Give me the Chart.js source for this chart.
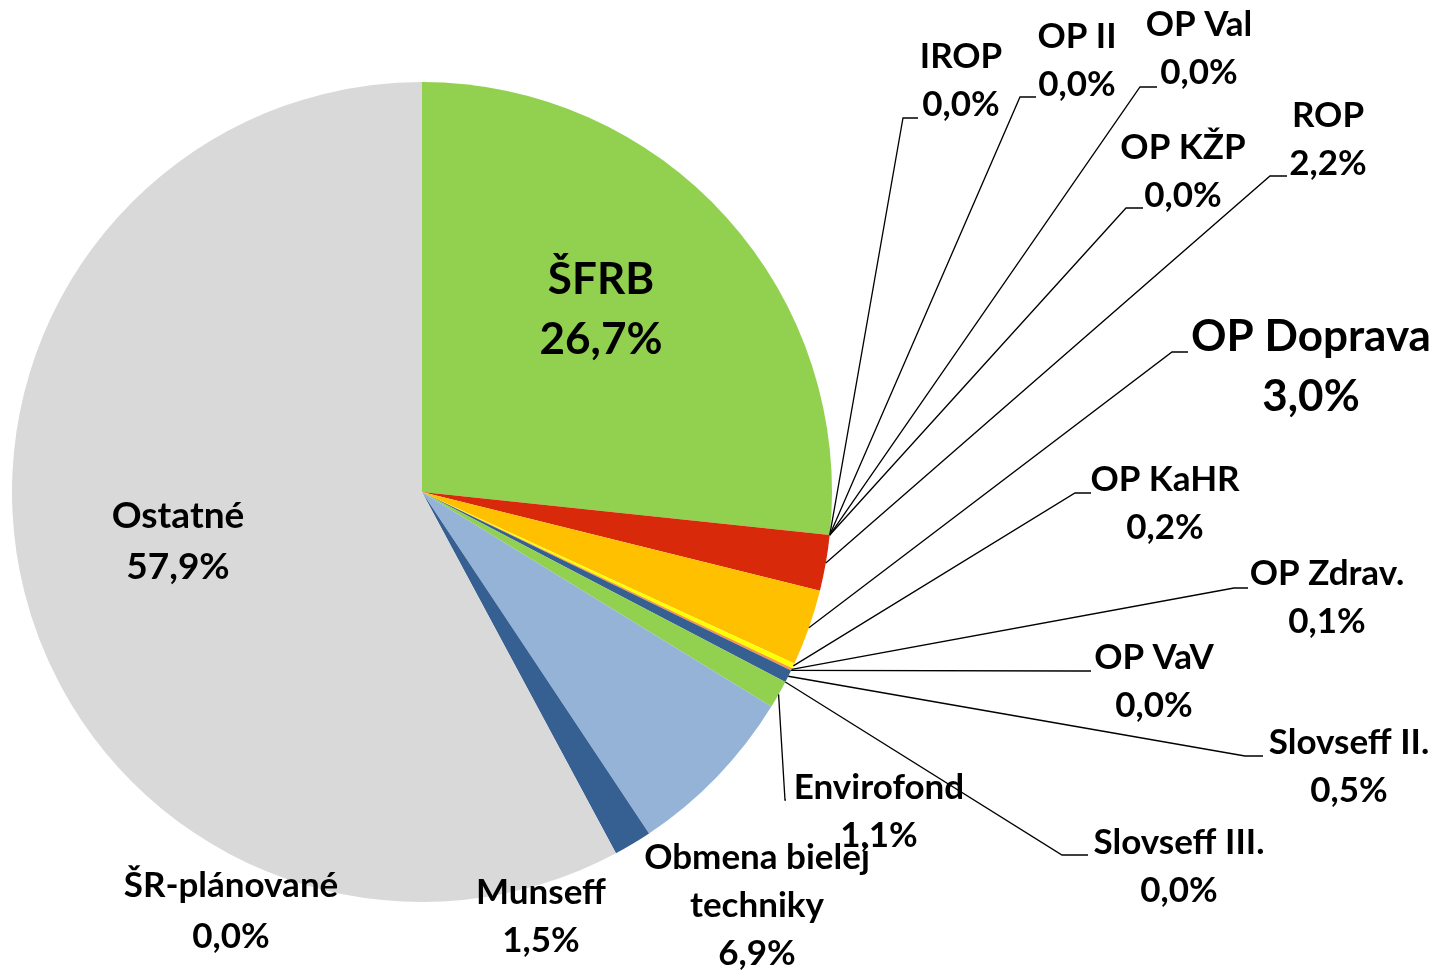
<!DOCTYPE html>
<html>
<head>
<meta charset="utf-8">
<script src="https://cdn.jsdelivr.net/npm/chart.js@4/dist/chart.umd.min.js"></script>
<style>
  body { margin: 0; background: #fff; }
  canvas { display: block; }
</style>
</head>
<body>
<canvas id="pieChart" width="1437" height="973"></canvas>
<script>
// data
const categories = ["ŠFRB", "IROP", "OP II", "OP Val", "OP KŽP", "ROP", "OP Doprava", "OP KaHR",
  "OP Zdrav.", "OP VaV", "Slovseff II.", "Slovseff III.", "Envirofond", "Obmena bielej techniky",
  "Munseff", "ŠR-plánované", "Ostatné"];
const shares = [26.7, 0.0, 0.0, 0.0, 0.0, 2.2, 3.0, 0.2, 0.1, 0.0, 0.5, 0.0, 1.1, 6.9, 1.5, 0.0, 57.9];
const sliceColors = ["#92D050", "#4F81BD", "#C0504D", "#9BBB59", "#8064A2", "#D9290B", "#FFC000", "#FFFF00",
  "#F79646", "#4BACC6", "#376092", "#7F7F7F", "#92D050", "#95B3D7", "#376092", "#BFBFBF", "#D9D9D9"];

// label placement (x = text centre, y = first line), optional leader elbow
const labelLayout = [
  { x: 601, y: 280, big: true },
  { x: 961, y: 57, elbow: [903, 118], end: [918, 118] },
  { x: 1077, y: 37, elbow: [1020, 97], end: [1036, 97] },
  { x: 1199, y: 25, elbow: [1140, 87], end: [1157, 87] },
  { x: 1183, y: 148, elbow: [1126, 208], end: [1143, 208] },
  { x: 1328, y: 116, elbow: [1270, 176], end: [1287, 176] },
  { x: 1311, y: 337, big: true, elbow: [1172, 352], end: [1188, 352] },
  { x: 1165, y: 480, elbow: [1075, 493], end: [1091, 493] },
  { x: 1327, y: 574, elbow: [1234, 588], end: [1248, 588] },
  { x: 1154, y: 658, elbow: [1078, 671], end: [1091, 671] },
  { x: 1349, y: 743, elbow: [1245, 756], end: [1263, 756] },
  { x: 1179, y: 843, elbow: [1062, 855], end: [1088, 855] },
  { x: 879, y: 788, elbow: [785, 800], end: [786, 800] },
  { x: 757, y: 858, wrap: true },
  { x: 541, y: 893 },
  { x: 231, y: 886, lh: 51 },
  { x: 178, y: 516, lh: 51, size: 37 }
];

function fmt(v) {
  return v.toFixed(1).replace(".", ",") + "%";
}

const pieLabels = {
  id: "pieLabels",
  afterDraw(chart) {
    const ctx = chart.ctx;
    const arcs = chart.getDatasetMeta(0).data;
    ctx.save();
    // leader lines
    ctx.strokeStyle = "#000";
    ctx.lineWidth = 1.3;
    arcs.forEach(function (arc, i) {
      const lay = labelLayout[i];
      if (!lay.elbow) return;
      const p = arc.getProps(["x", "y", "startAngle", "endAngle", "outerRadius"], true);
      const mid = (p.startAngle + p.endAngle) / 2;
      const sx = p.x + Math.cos(mid) * p.outerRadius;
      const sy = p.y + Math.sin(mid) * p.outerRadius;
      ctx.beginPath();
      ctx.moveTo(sx, sy);
      ctx.lineTo(lay.elbow[0], lay.elbow[1]);
      ctx.lineTo(lay.end[0], lay.end[1]);
      ctx.stroke();
    });
    // texts
    ctx.fillStyle = "#000";
    ctx.textAlign = "center";
    ctx.textBaseline = "middle";
    categories.forEach(function (name, i) {
      const lay = labelLayout[i];
      let lines = [name];
      if (lay.wrap) {
        const k = name.lastIndexOf(" ");
        lines = [name.slice(0, k), name.slice(k + 1)];
      }
      lines.push(fmt(shares[i]));
      const size = lay.size || (lay.big ? 44 : 35);
      const lh = lay.lh || (lay.big ? 60 : 48);
      ctx.font = "700 " + size + "px Lato";
      lines.forEach(function (t, j) {
        ctx.fillText(t, lay.x, lay.y + j * lh);
      });
    });
    ctx.restore();
  }
};

new Chart("pieChart", {
  type: "pie",
  data: {
    labels: categories,
    datasets: [{
      data: shares,
      backgroundColor: sliceColors,
      borderWidth: 0
    }]
  },
  options: {
    responsive: false,
    animation: false,
    layout: { padding: { left: 12, top: 82, right: 605, bottom: 71 } },
    plugins: {
      legend: { display: false },
      tooltip: { enabled: false }
    }
  },
  plugins: [pieLabels]
});
</script>
</body>
</html>
